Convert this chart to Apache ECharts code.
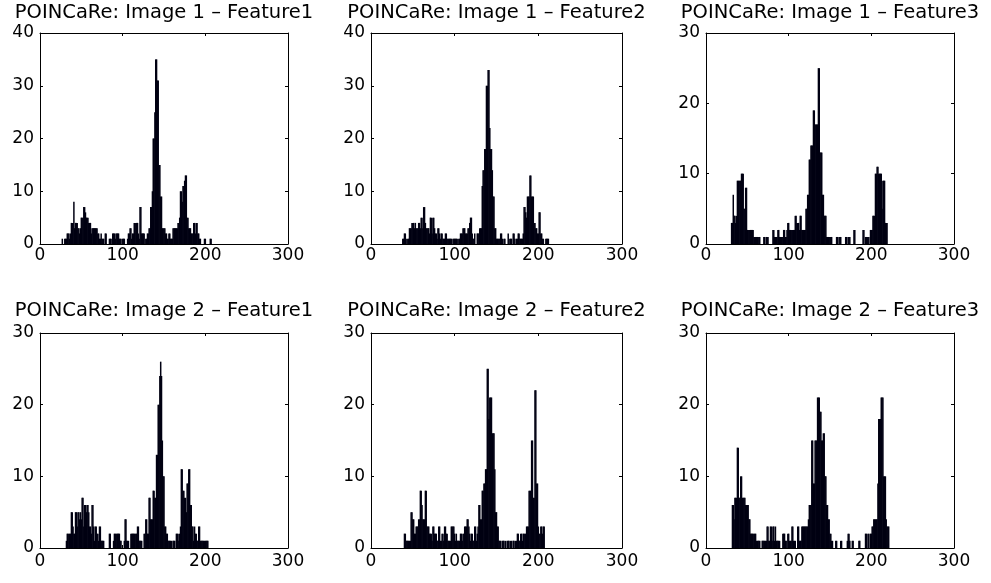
<!DOCTYPE html>
<html><head><meta charset="utf-8">
<script src="https://cdn.jsdelivr.net/npm/echarts@6/dist/echarts.min.js"></script>
<style>html,body{margin:0;padding:0;background:#fff}#c{width:991px;height:583px}</style>
</head><body><div id="c"></div>
<script>
// ---- data ----
const titles = [
  'POINCaRe: Image 1 – Feature1', 'POINCaRe: Image 1 – Feature2', 'POINCaRe: Image 1 – Feature3',
  'POINCaRe: Image 2 – Feature1', 'POINCaRe: Image 2 – Feature2', 'POINCaRe: Image 2 – Feature3'
];
const xTicks = [0, 100, 200, 300];
const yMaxes = [40, 40, 30, 30, 30, 30];
const binStarts = [27, 38, 31, 32, 40, 32];

const img1Feature1 = [
  1,0,0,1,1,1,2,2,2,1, 2,4,4,4,8,3,4,4,4,3, 3,2,3,5,5,5,7,7,6,5,
  5,5,4,4,4,2,3,3,3,3, 3,3,3,2,2,1,1,2,1,1, 1,0,2,2,0,0,0,1,1,1,
  0,2,2,2,1,2,2,2,2,1, 1,1,0,1,1,1,0,0,0,1, 2,2,3,3,1,2,2,4,4,4,
  4,4,2,1,7,7,2,2,2,2, 0,1,1,2,2,3,3,7,7,10, 20,20,25,35,35,31,31,15,15,9,
  9,3,3,3,3,2,2,1,1,2, 2,1,1,1,3,3,3,3,3,3, 4,4,5,10,10,8,11,11,12,13,
  13,5,5,3,3,3,2,2,2,4, 4,2,4,4,2,2,1,1,0,0, 0,0,1,1,0,0,0,0,0,1, 1
];
const img1Feature2 = [
  1,1,2,2,1,0,1,1,3,3, 3,4,4,4,3,4,3,3,3,4, 4,3,5,5,3,7,7,4,3,3,
  3,3,2,5,5,2,5,5,3,2, 2,1,3,3,2,1,2,2,1,1, 1,2,2,1,1,1,1,1,1,0,
  1,1,1,1,1,1,0,1,1,2, 2,2,3,3,3,2,2,2,3,3, 4,5,5,2,1,1,2,0,0,2,
  2,2,3,3,3,11,14,14,18,18, 30,30,33,33,22,18,18,14,9,9, 3,3,1,1,1,1,1,2,2,1,
  0,1,1,0,0,0,2,0,1,1, 1,0,2,2,1,0,1,1,2,2, 1,1,1,1,2,7,7,6,5,9,
  9,9,13,13,9,9,9,4,4,3, 3,2,2,6,6,2,2,1,1,0, 0,1,1,1,1
];
const img1Feature3 = [
  3,3,7,4,4,3,4,9,9,9, 9,9,10,10,10,5,5,8,8,2, 2,2,2,2,2,2,2,1,1,1,
  1,1,1,1,1,0,0,0,0,1, 1,0,1,1,1,0,0,0,0,0, 2,2,1,1,1,1,2,2,1,1,
  1,1,1,2,2,1,1,2,3,3, 2,2,2,2,2,2,2,4,4,3, 3,3,2,4,4,2,2,2,2,2,
  5,5,7,7,12,12,14,14,14,19, 19,17,17,17,17,25,25,13,13,13, 7,7,4,4,4,1,1,1,1,1,
  1,1,0,0,0,0,0,1,1,0, 1,1,1,0,0,0,0,0,1,1, 0,1,1,1,0,0,0,0,2,2,
  0,0,0,0,0,0,0,0,0,2, 2,0,1,1,1,1,1,0,2,2, 2,4,4,4,10,10,11,11,10,10,
  10,10,5,9,9,9,3,3,3
];
const img2Feature1 = [
  1,2,2,2,2,2,5,5,3,2, 2,5,5,3,5,5,4,5,4,7, 7,3,6,6,5,6,6,5,3,3,
  2,6,6,3,1,3,3,2,2,1, 3,3,1,1,1,1,0,0,0,0, 0,0,2,2,0,0,0,1,2,2,
  2,2,2,2,2,1,1,0,0,0, 1,4,4,1,1,1,0,0,2,2, 2,2,2,2,2,2,3,3,1,1,
  1,1,0,0,2,2,4,4,2,2, 7,7,4,4,4,8,8,7,7,13, 13,20,20,24,26,24,15,10,10,3,
  3,2,2,1,1,1,1,1,0,1, 1,1,0,2,2,2,1,2,3,11, 11,8,8,7,7,5,9,9,11,11,
  6,6,3,3,1,3,2,2,1,1, 3,3,1,1,1,1,1,1,1,1, 1,1
];
const img2Feature2 = [
  2,2,1,1,1,1,1,1,5,5, 4,4,2,2,3,3,3,4,4,8, 8,6,4,4,4,8,8,3,3,3,
  2,2,2,1,3,3,2,2,2,1, 1,3,3,1,1,2,2,1,3,3, 2,2,1,1,1,1,3,3,3,3,
  2,1,2,1,1,1,1,2,2,1, 2,2,3,3,3,4,4,3,2,1, 2,2,1,1,3,3,1,2,3,6,
  6,4,4,8,8,9,9,11,11,25, 25,18,21,21,21,16,16,16,11,5, 5,3,3,1,1,1,0,1,1,1,
  0,1,0,1,1,1,0,1,1,0, 1,1,0,1,1,2,2,1,1,2, 2,1,2,2,2,2,3,3,3,8,
  8,8,15,15,7,7,22,22,9,9, 3,2,2,3,3,2,3,3
];
const img2Feature3 = [
  6,6,4,7,7,7,14,14,7,7, 10,10,7,7,7,7,6,6,6,6, 4,4,2,2,2,2,2,2,2,1,
  1,1,1,1,0,0,1,1,1,1, 1,1,3,3,1,1,3,3,1,3, 3,1,3,1,1,1,1,1,0,0,
  0,2,2,2,1,1,0,2,2,1, 1,1,3,3,1,1,1,0,0,3, 3,1,1,1,3,3,3,3,3,3,
  3,3,4,6,6,6,15,15,9,9, 15,15,15,21,21,21,19,19,15,15, 16,16,10,10,6,6,4,4,2,2,
  1,1,0,0,0,1,1,0,0,0, 0,1,1,0,0,0,0,0,0,1, 2,2,1,0,0,1,1,0,0,0,
  0,0,0,1,1,0,0,0,0,0, 0,2,2,0,2,2,0,2,2,3, 3,4,4,4,4,4,9,18,18,18,
  21,21,21,10,10,10,4,3,3,3
];
const allCounts = [img1Feature1, img1Feature2, img1Feature3, img2Feature1, img2Feature2, img2Feature3];

// ---- layout ----
const layout = [
  {left: 40,  top: 33,  width: 248, height: 211},
  {left: 371, top: 33,  width: 251, height: 211},
  {left: 706, top: 33,  width: 248, height: 211},
  {left: 40,  top: 333, width: 248, height: 215},
  {left: 371, top: 333, width: 251, height: 215},
  {left: 706, top: 333, width: 248, height: 215}
];
const titleTops = [3, 3, 3, 301, 301, 301];
const xLabelMargins = [3, 3, 3, 5, 5, 5];
const FONT = 'DejaVu Sans';

const chart = echarts.init(document.getElementById('c'), null, {renderer: 'canvas'});
const option = {animation: false, backgroundColor: '#fff', title: [], grid: [], xAxis: [], yAxis: [], series: []};

function axisBase() {
  return {
    axisLine: {show: true, onZero: false, lineStyle: {color: '#000', width: 1}},
    axisTick: {show: true, inside: true, length: 3, lineStyle: {color: '#000', width: 1}},
    splitLine: {show: false}
  };
}

for (let i = 0; i < 6; i++) {
  const g = layout[i];
  option.grid.push(Object.assign({containLabel: false, show: false}, g));
  option.title.push({
    text: titles[i], left: g.left + g.width / 2, top: titleTops[i], textAlign: 'center', padding: 0,
    textStyle: {fontFamily: FONT, fontSize: 19.5, fontWeight: 'normal', color: '#000'}
  });
  option.xAxis.push(Object.assign(axisBase(), {
    gridIndex: i, type: 'value', position: 'bottom', min: xTicks[0], max: xTicks[xTicks.length - 1], interval: 100,
    axisLabel: {show: true, fontFamily: FONT, fontSize: 17, color: '#000', margin: xLabelMargins[i]}
  }));
  option.xAxis.push(Object.assign(axisBase(), {
    gridIndex: i, type: 'value', position: 'top', min: xTicks[0], max: xTicks[xTicks.length - 1], interval: 100,
    axisLabel: {show: false}
  }));
  option.yAxis.push(Object.assign(axisBase(), {
    gridIndex: i, type: 'value', position: 'left', min: 0, max: yMaxes[i], interval: 10,
    axisLabel: {show: true, fontFamily: FONT, fontSize: 17, color: '#000', margin: 6}
  }));
  option.yAxis.push(Object.assign(axisBase(), {
    gridIndex: i, type: 'value', position: 'right', min: 0, max: yMaxes[i], interval: 10,
    axisLabel: {show: false}
  }));
  const start = binStarts[i];
  option.series.push({
    type: 'bar', xAxisIndex: 2 * i, yAxisIndex: 2 * i, barWidth: 1.5, silent: true,
    itemStyle: {color: '#000012'},
    data: allCounts[i].map((v, k) => [start + k, v])
  });
}
chart.setOption(option);
</script>
</body></html>
